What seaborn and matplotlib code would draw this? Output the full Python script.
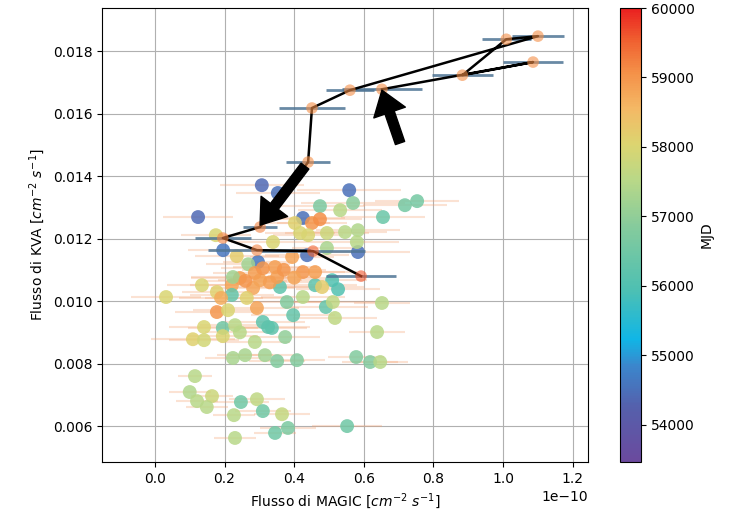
import numpy as np
import pandas as pd
import matplotlib
matplotlib.use('Agg')
import matplotlib.pyplot as plt
import seaborn as sns
from matplotlib.colors import LinearSegmentedColormap, Normalize
from matplotlib.cm import ScalarMappable

# -------------------------------
# Data (MAGIC flux in units of 1e-10)
# -------------------------------
magic = [0.307, 0.353, 0.124, 0.425, 0.558, 0.583, 0.437, 0.196, 0.296, 0.474,
         0.532, 0.569, 0.655, 0.718, 0.753, 0.451, 0.474, 0.402, 0.494, 0.546,
         0.583, 0.580, 0.440, 0.494, 0.509, 0.175, 0.235, 0.339, 0.268, 0.135,
         0.032, 0.178, 0.178, 0.141, 0.109, 0.141, 0.195, 0.230, 0.244, 0.195,
         0.287, 0.224, 0.259, 0.316, 0.221, 0.221, 0.244, 0.282, 0.302, 0.293,
         0.264, 0.210, 0.310, 0.325, 0.359, 0.397, 0.374, 0.379, 0.425, 0.460,
         0.491, 0.511, 0.480, 0.517, 0.526, 0.652, 0.638, 0.578, 0.618, 0.647,
         0.351, 0.408, 0.115, 0.100, 0.164, 0.121, 0.149, 0.247, 0.293, 0.310,
         0.227, 0.365, 0.345, 0.382, 0.230, 0.552, 0.287, 0.345, 0.351, 0.394,
         0.425, 0.460, 0.224, 0.417, 0.336, 0.260, 0.330, 0.370, 0.400, 0.310,
         0.190]
kva = [0.01371, 0.01346, 0.01269, 0.01266, 0.01355, 0.01157, 0.01147, 0.01163, 0.01125, 0.01304,
       0.01291, 0.01314, 0.01269, 0.01307, 0.01320, 0.01250, 0.01262, 0.01250, 0.01218, 0.01221,
       0.01227, 0.01189, 0.01211, 0.01170, 0.01067, 0.01211, 0.01144, 0.01189, 0.01118, 0.01051,
       0.01013, 0.01029, 0.00965, 0.00917, 0.00878, 0.00875, 0.00914, 0.00923, 0.00900, 0.00888,
       0.00869, 0.00818, 0.00827, 0.00827, 0.01051, 0.01020, 0.01074, 0.01042, 0.01067, 0.00978,
       0.01010, 0.00971, 0.00933, 0.00917, 0.01045, 0.00955, 0.00885, 0.00997, 0.01013, 0.01051,
       0.00981, 0.00997, 0.01045, 0.00946, 0.01038, 0.00994, 0.00901, 0.00821, 0.00805, 0.00805,
       0.00808, 0.00811, 0.00760, 0.00709, 0.00696, 0.00680, 0.00661, 0.00677, 0.00686, 0.00648,
       0.00635, 0.00638, 0.00578, 0.00594, 0.00562, 0.00600, 0.01090, 0.01109, 0.01077, 0.01141,
       0.01093, 0.01093, 0.01077, 0.01218, 0.00914, 0.01065, 0.01060, 0.01100, 0.01075, 0.01105,
       0.01010]
mjd = [54400, 54500, 54400, 54500, 54500, 54500, 54500, 54600, 54600, 56700,
       57500, 56900, 56400, 56600, 56600, 59000, 59100, 58100, 57800, 57500,
       57400, 57500, 58000, 57300, 56000, 58000, 58200, 58000, 57200, 58000,
       58000, 58100, 59000, 58000, 58100, 57900, 56500, 57500, 57500, 58000,
       57500, 57300, 57300, 57200, 58800, 56300, 58900, 58800, 58800, 58800,
       58100, 58000, 56200, 56200, 56200, 56300, 57000, 56800, 57500, 56200,
       56300, 57600, 58200, 57600, 56000, 57500, 57500, 56800, 56800, 57500,
       56800, 56800, 57500, 57400, 57800, 57500, 57500, 56500, 57600, 56500,
       57500, 57700, 56500, 56700, 57500, 56500, 58900, 58900, 58900, 58800,
       59000, 58900, 57200, 58000, 56200, 59000, 58900, 59000, 58800, 59000,
       58700]
magic_err = [0.12, 0.12, 0.10, 0.12, 0.15, 0.15, 0.12, 0.10, 0.10, 0.13,
             0.12, 0.15, 0.12, 0.12, 0.12, 0.10, 0.12, 0.10, 0.12, 0.12,
             0.12, 0.12, 0.10, 0.10, 0.10, 0.10, 0.12, 0.12, 0.12, 0.10,
             0.10, 0.10, 0.12, 0.10, 0.12, 0.10, 0.10, 0.10, 0.10, 0.10,
             0.10, 0.08, 0.08, 0.10, 0.12, 0.12, 0.14, 0.12, 0.12, 0.12,
             0.12, 0.10, 0.12, 0.12, 0.12, 0.12, 0.10, 0.12, 0.12, 0.12,
             0.12, 0.12, 0.12, 0.12, 0.12, 0.08, 0.08, 0.08, 0.08, 0.08,
             0.08, 0.08, 0.05, 0.06, 0.06, 0.06, 0.06, 0.08, 0.08, 0.08,
             0.06, 0.08, 0.06, 0.08, 0.06, 0.10, 0.12, 0.12, 0.12, 0.12,
             0.12, 0.12, 0.12, 0.10, 0.10, 0.12, 0.12, 0.12, 0.12, 0.12,
             0.12]

# flare sequence (connected by the black line)
seq_magic = [0.592, 0.454, 0.293, 0.195, 0.302, 0.440, 0.451, 0.560, 1.100, 1.009, 0.883, 1.086, 0.652]
seq_kva = [0.01080, 0.01160, 0.01163, 0.01202, 0.01237, 0.01445, 0.01618, 0.01675,
           0.01848, 0.01838, 0.01723, 0.01765, 0.01678]
seq_err = [0.10, 0.15, 0.14, 0.08, 0.05, 0.063, 0.096, 0.07, 0.075, 0.07, 0.088, 0.086, 0.115]
seq_mjd = [59600, 59500, 59200, 59200, 59200, 59100, 59100, 59100, 59100, 59100, 59100, 59100, 59100]

df = pd.DataFrame({'magic': np.array(magic) * 1e-10, 'kva': kva, 'mjd': mjd,
                   'err': np.array(magic_err) * 1e-10})
seq = pd.DataFrame({'magic': np.array(seq_magic) * 1e-10, 'kva': seq_kva, 'mjd': seq_mjd,
                    'err': np.array(seq_err) * 1e-10})

# -------------------------------
# Colormap
# -------------------------------
vmin, vmax = 53460, 60000
cmap = LinearSegmentedColormap.from_list('mjd', [
    (0.00, '#6b4a9e'), (0.12, '#5560ac'), (0.21, '#3b86cc'), (0.27, '#10b6e6'),
    (0.38, '#4ec0b2'), (0.52, '#86cb9c'), (0.62, '#b8d888'), (0.70, '#dcd570'),
    (0.78, '#f4b865'), (0.86, '#f49048'), (0.93, '#f06030'), (1.00, '#ea2020')])
norm = Normalize(vmin=vmin, vmax=vmax)

# -------------------------------
# Plot
# -------------------------------
fig = plt.figure(figsize=(7.31, 5.21), dpi=100)
ax = fig.add_axes([0.1395, 0.1132, 0.665, 0.8714])
cax = fig.add_axes([0.848, 0.1132, 0.0287, 0.8714])

ax.errorbar(df['magic'], df['kva'], xerr=df['err'], fmt='none',
            ecolor='#f4a070', alpha=0.3, elinewidth=1.5, zorder=1)
sns.scatterplot(data=df, x='magic', y='kva', hue='mjd', palette=cmap, hue_norm=norm,
                s=100, alpha=0.85, linewidth=0, legend=False, ax=ax, zorder=2)

ax.errorbar(seq['magic'], seq['kva'], xerr=seq['err'], fmt='none',
            ecolor='#4f7595', alpha=0.85, elinewidth=2, zorder=3)
sns.lineplot(data=seq, x='magic', y='kva', sort=False, estimator=None,
             color='black', linewidth=1.8, ax=ax, zorder=4)
sns.scatterplot(data=seq, x='magic', y='kva', hue='mjd', palette=cmap, hue_norm=norm,
                s=70, alpha=0.6, linewidth=0, legend=False, ax=ax, zorder=5)

arrow_kw = dict(facecolor='black', edgecolor='black', width=7, headwidth=24,
                headlength=17, shrink=0.0)
ax.annotate('', xy=(0.302e-10, 0.01243), xytext=(0.431e-10, 0.01432),
            arrowprops=arrow_kw, zorder=6)
ax.annotate('', xy=(0.652e-10, 0.01675), xytext=(0.704e-10, 0.01506),
            arrowprops=arrow_kw, zorder=6)

ax.set_xlim(-0.152e-10, 1.244e-10)
ax.set_ylim(0.00485, 0.01938)
ax.set_xticks(np.arange(0, 1.21, 0.2) * 1e-10)
ax.grid(True)
ax.set_axisbelow(True)
ax.set_xlabel(r'Flusso di MAGIC [$cm^{-2}\ s^{-1}$]')
ax.set_ylabel(r'Flusso di KVA [$cm^{-2}\ s^{-1}$]')

sm = ScalarMappable(norm=norm, cmap=cmap)
cb = fig.colorbar(sm, cax=cax)
cb.set_label('MJD')

fig.savefig('out.png', dpi=100)
